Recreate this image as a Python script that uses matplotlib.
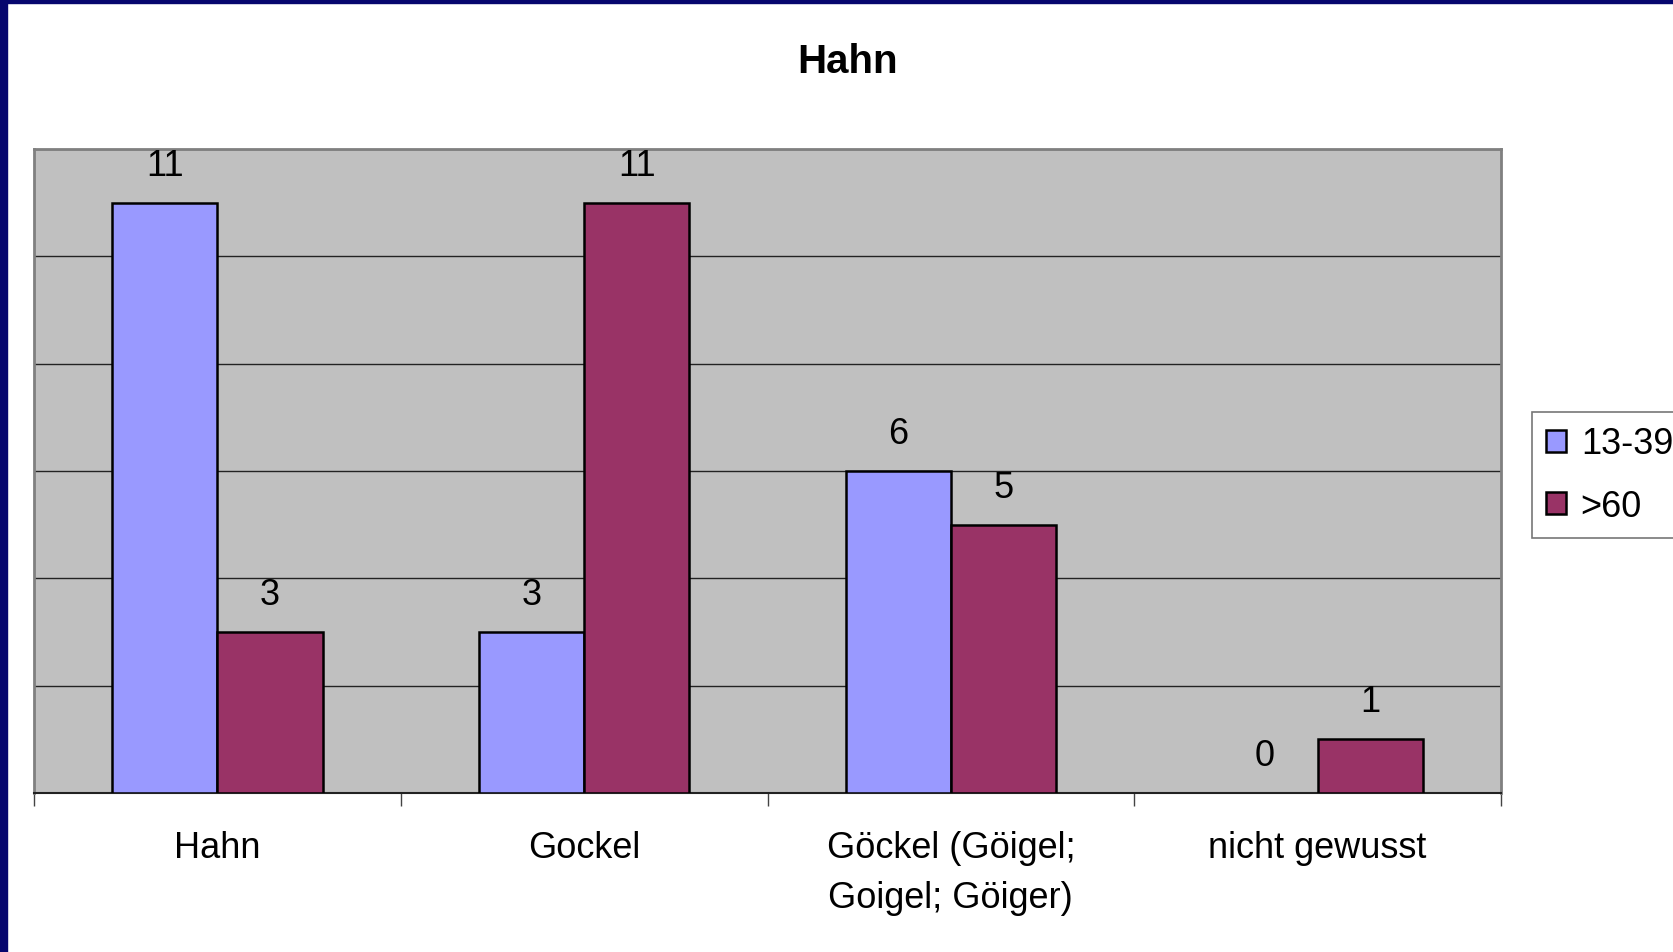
import matplotlib.pyplot as plt
import numpy as np
from matplotlib.patches import Rectangle

plt.rcParams["font.family"] = ["Liberation Sans", "DejaVu Sans"]

CATEGORIES = ["Hahn", "Gockel", "Göckel (Göigel;\nGoigel; Göiger)", "nicht gewusst"]
SERIES = ["13-39", ">60"]
VALUES_YOUNG = [11, 3, 6, 0]
VALUES_OLD = [3, 11, 5, 1]
COLORS = ["#9999FF", "#993366"]

W, H = 1673, 953
fig = plt.figure(figsize=(W / 100, H / 100), dpi=100)

# navy slide frame on the left and top
fig.patches.append(Rectangle((0, 0), 7 / W, 1, transform=fig.transFigure,
                             color="#06066e", zorder=0))
fig.patches.append(Rectangle((0, 1 - 4 / H), 1, 4 / H, transform=fig.transFigure,
                             color="#06066e", zorder=0))

ax = fig.add_axes([34 / W, 1 - 794 / H, (1501 - 34) / W, (794 - 150) / H])
ax.set_facecolor("#C0C0C0")

x = np.arange(len(CATEGORIES))
bw = 0.287
bars = []
for i, (vals, name) in enumerate(zip([VALUES_YOUNG, VALUES_OLD], SERIES)):
    b = ax.bar(x + (i - 0.5) * bw, vals, width=bw, color=COLORS[i],
               edgecolor="black", linewidth=1.8, label=name, zorder=3)
    for rect, v in zip(b, vals):
        if v == 0:
            rect.set_linewidth(0)
    bars.append(b)
    for xi, v in zip(x + (i - 0.5) * bw, vals):
        ax.annotate(str(v), (xi, v), xytext=(0, 27), textcoords="offset points",
                    ha="center", va="center", fontsize=26, zorder=4)

ax.set_xlim(-0.5, len(CATEGORIES) - 0.5)
ax.set_ylim(0, 12)
ax.set_yticks(np.arange(0, 13, 2))
ax.yaxis.grid(True, color="#222222", linewidth=1.0, zorder=1)
ax.tick_params(axis="y", left=False, labelleft=False)

ax.set_xticks(x)
ax.set_xticklabels(CATEGORIES, fontsize=26, linespacing=1.55)
ax.tick_params(axis="x", which="major", length=0, pad=27)
ax.set_xticks(np.arange(-0.5, len(CATEGORIES), 1), minor=True)
ax.tick_params(axis="x", which="minor", length=9, width=1, color="#444444")

for s in ["top", "left", "right"]:
    ax.spines[s].set_color("#808080")
    ax.spines[s].set_linewidth(2)
ax.spines["bottom"].set_color("#222222")
ax.spines["bottom"].set_linewidth(1.5)

fig.text(848 / W, 1 - 62 / H, "Hahn", ha="center", va="center",
         fontsize=29, fontweight="bold")

leg = fig.legend(handles=bars, labels=SERIES, loc="upper left",
                 bbox_to_anchor=(1532 / W, 1 - 413 / H), fontsize=26,
                 frameon=True, fancybox=False, handlelength=0.55, handleheight=0.55,
                 handletextpad=0.4, labelspacing=0.75, borderpad=0.4,
                 borderaxespad=0)
leg.get_frame().set_edgecolor("#555555")
leg.get_frame().set_linewidth(1.2)

fig.savefig("out.png", dpi=100)
